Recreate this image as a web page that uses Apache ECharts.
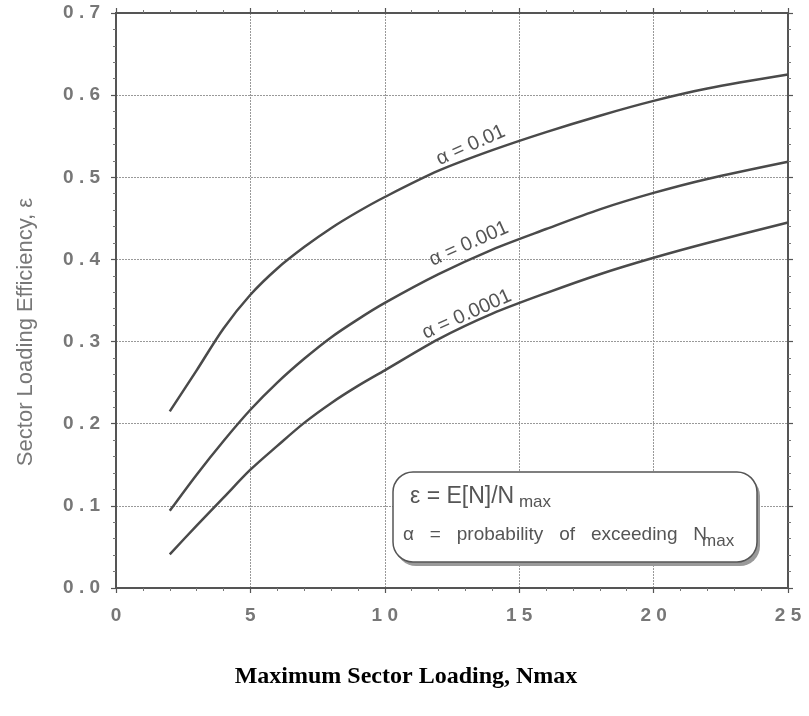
<!DOCTYPE html>
<html>
<head>
<meta charset="utf-8">
<script src="https://cdn.jsdelivr.net/npm/echarts@6/dist/echarts.min.js"></script>
<style>html,body{margin:0;padding:0;background:#fff}#c{width:809px;height:716px}</style>
</head>
<body>
<div id="c"></div>
<script>
// ---- data ----
var nmax = [2, 3, 4, 5, 6, 7, 8, 9, 10, 12, 14, 16, 18, 20, 22, 25];
var eff_a01 = [0.215, 0.265, 0.316, 0.357, 0.389, 0.415, 0.438, 0.458, 0.476, 0.508, 0.533, 0.555, 0.575, 0.593, 0.608, 0.625];
var eff_a001 = [0.094, 0.138, 0.179, 0.217, 0.250, 0.279, 0.305, 0.327, 0.347, 0.382, 0.412, 0.437, 0.461, 0.481, 0.498, 0.519];
var eff_a0001 = [0.041, 0.076, 0.110, 0.144, 0.173, 0.201, 0.225, 0.246, 0.265, 0.303, 0.334, 0.359, 0.382, 0.402, 0.420, 0.445];
var seriesNames = ['α = 0.01', 'α = 0.001', 'α = 0.0001'];
// label anchor positions in data coordinates (x, y)
var labelAnchors = [[13.2, 0.539], [13.13, 0.419], [13.05, 0.333]];
var xTicks = [0, 5, 10, 15, 20, 25];
var yTicks = [0.0, 0.1, 0.2, 0.3, 0.4, 0.5, 0.6, 0.7];

function zip(xs, ys) { return xs.map(function (x, i) { return [x, ys[i]]; }); }
function spaced(s) { return String(s).split('').join(' '); }

var chart = echarts.init(document.getElementById('c'));
var frame = '#555';
var grid = { left: 116, right: 21, top: 13, bottom: 128, show: true, borderColor: frame, borderWidth: 2, backgroundColor: 'transparent' };

function axisBase(isX, main) {
  return {
    type: 'value',
    gridIndex: 0,
    min: isX ? xTicks[0] : yTicks[0],
    max: isX ? xTicks[xTicks.length - 1] : yTicks[yTicks.length - 1],
    interval: isX ? 5 : 0.1,
    axisLine: { show: true, onZero: false, lineStyle: { color: frame, width: 2 } },
    axisTick: { show: true, inside: false, length: 5, lineStyle: { color: frame, width: 1.2 } },
    minorTick: { show: true, splitNumber: 5, length: 3, lineStyle: { color: '#777', width: 1 } },
    splitLine: { show: main, lineStyle: { color: '#999', width: 1, type: [2, 1] } },
    minorSplitLine: { show: false },
    axisLabel: {
      show: main,
      margin: isX ? 18 : 16,
      color: '#777',
      fontFamily: 'Arial, Liberation Sans, sans-serif',
      fontWeight: 'bold',
      fontSize: 19,
      formatter: function (v) { return isX ? spaced(v) : spaced(v.toFixed(1)); }
    }
  };
}

var xb = axisBase(true, true); xb.position = 'bottom';
var xt = axisBase(true, false); xt.position = 'top';
var yl = axisBase(false, true); yl.position = 'left';
var yr = axisBase(false, false); yr.position = 'right';

var lineStyle = { color: '#4a4a4a', width: 2.5 };
var data = [eff_a01, eff_a001, eff_a0001];

chart.setOption({
  animation: false,
  backgroundColor: '#fff',
  grid: grid,
  xAxis: [xb, xt],
  yAxis: [yl, yr],
  series: data.map(function (d, i) {
    return {
      name: seriesNames[i], type: 'line', smooth: 0.3, showSymbol: false,
      xAxisIndex: 0, yAxisIndex: 0,
      lineStyle: lineStyle, itemStyle: { color: '#4a4a4a' },
      data: zip(nmax, d)
    };
  })
});

var graphics = [];
// curve labels
labelAnchors.forEach(function (a, i) {
  var p = chart.convertToPixel({ xAxisIndex: 0, yAxisIndex: 0 }, a);
  graphics.push({
    type: 'text', x: p[0], y: p[1], rotation: 24 * Math.PI / 180,
    style: { text: seriesNames[i], fill: '#555', font: '20px Arial, Liberation Sans, sans-serif', align: 'center', verticalAlign: 'middle' }
  });
});
// y axis title
graphics.push({
  type: 'text', x: 26, y: 332, rotation: Math.PI / 2,
  style: { text: 'Sector Loading Efficiency, ε', fill: '#777', font: '22px Arial, Liberation Sans, sans-serif', align: 'center', verticalAlign: 'middle' }
});
// x axis title
graphics.push({
  type: 'text', x: 406, y: 677,
  style: { text: 'Maximum Sector Loading, Nmax', fill: '#000', font: 'bold 24px "Liberation Serif", "Times New Roman", serif', align: 'center', verticalAlign: 'middle' }
});
// definitions box
graphics.push({
  type: 'rect', shape: { x: 396, y: 476, width: 364, height: 90, r: 20 },
  style: { fill: '#9a9a9a', stroke: null }
});
graphics.push({
  type: 'rect', shape: { x: 393, y: 472, width: 364, height: 90, r: 20 },
  style: { fill: '#fff', stroke: '#555', lineWidth: 1.5 }
});
graphics.push({
  type: 'text', x: 410, y: 508,
  style: {
    text: '{m|ε = E[N]/N}{s| max}',
    verticalAlign: 'bottom',
    rich: {
      m: { fill: '#555', font: '23px Arial, Liberation Sans, sans-serif', verticalAlign: 'bottom' },
      s: { fill: '#555', font: '17px Arial, Liberation Sans, sans-serif', verticalAlign: 'bottom', padding: [0, 0, -3, 0] }
    }
  }
});
graphics.push({
  type: 'text', x: 403, y: 544,
  style: {
    text: '{m|α   =   probability   of   exceeding   N}{s|max}',
    verticalAlign: 'bottom',
    rich: {
      m: { fill: '#555', font: '19px Arial, Liberation Sans, sans-serif', verticalAlign: 'bottom' },
      s: { fill: '#555', font: '17px Arial, Liberation Sans, sans-serif', verticalAlign: 'bottom', padding: [0, 0, -6, -5] }
    }
  }
});
chart.setOption({ graphic: graphics });
</script>
</body>
</html>
